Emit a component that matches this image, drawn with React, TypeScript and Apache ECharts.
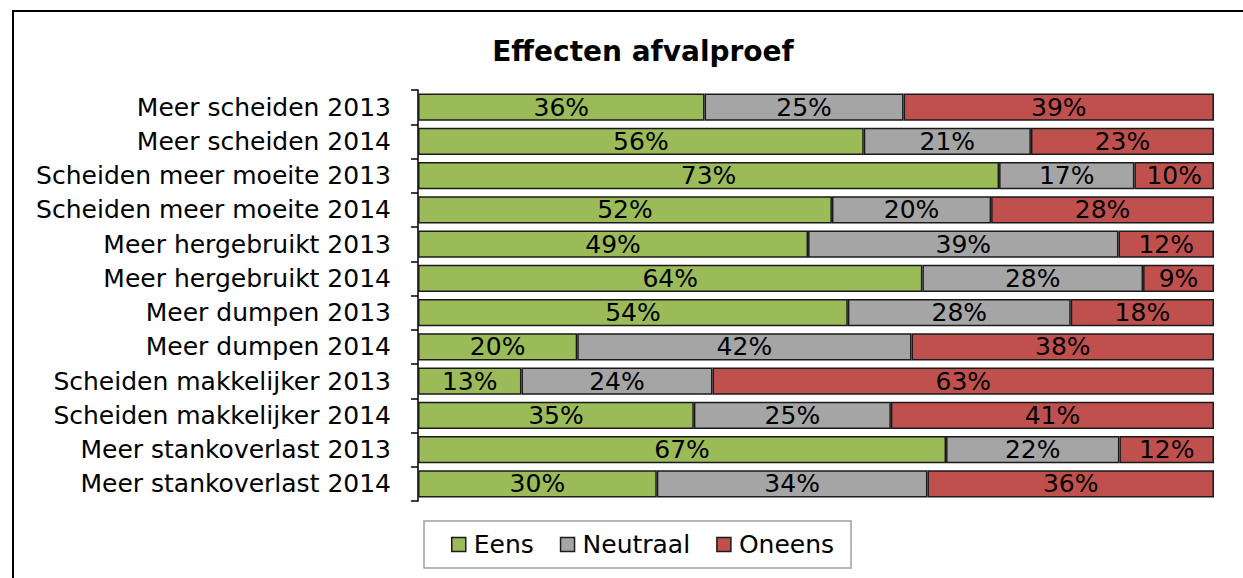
import React, { useEffect, useRef } from "react";
import * as echarts from "echarts";

const categories = [
  "Meer scheiden 2013",
  "Meer scheiden 2014",
  "Scheiden meer moeite 2013",
  "Scheiden meer moeite 2014",
  "Meer hergebruikt 2013",
  "Meer hergebruikt 2014",
  "Meer dumpen 2013",
  "Meer dumpen 2014",
  "Scheiden makkelijker 2013",
  "Scheiden makkelijker 2014",
  "Meer stankoverlast 2013",
  "Meer stankoverlast 2014",
];
const eens = [36, 56, 73, 52, 49, 64, 54, 20, 13, 35, 67, 30];
const neutraal = [25, 21, 17, 20, 39, 28, 28, 42, 24, 25, 22, 34];
const oneens = [39, 23, 10, 28, 12, 9, 18, 38, 63, 41, 12, 36];
const seriesNames = ["Eens", "Neutraal", "Oneens"];
const colors = ["#9BBB59", "#A5A5A5", "#C0504D"];

const FONT = "DejaVu Sans";

export default function App() {
  const ref = useRef<HTMLDivElement>(null);
  useEffect(() => {
    if (!ref.current) return;
    const chart = echarts.init(ref.current, null, { renderer: "svg" });
    const raw = [eens, neutraal, oneens];
    const totals = categories.map((_, i) => eens[i] + neutraal[i] + oneens[i]);
    const series = raw.map((arr, s) => ({
      name: seriesNames[s],
      type: "bar",
      stack: "total",
      barCategoryGap: "21%",
      itemStyle: { color: colors[s], borderColor: "#1a1a1a", borderWidth: 1.5 },
      label: {
        show: true,
        position: "inside",
        color: "#000",
        fontFamily: FONT,
        fontSize: 25,
        formatter: (p: any) => arr[p.dataIndex] + "%",
      },
      data: arr.map((v, i) => (v / totals[i]) * 100),
    }));
    chart.setOption({
      animation: false,
      backgroundColor: "#fff",
      title: {
        text: "Effecten afvalproef",
        left: 638,
        textAlign: "center",
        top: 32,
        textStyle: { fontFamily: FONT, fontSize: 28, fontWeight: "bold", color: "#000" },
      },
      legend: {
        bottom: 10,
        left: 424,
        itemWidth: 14,
        itemHeight: 14,
        itemGap: 26,
        padding: [11, 17, 11, 27],
        borderColor: "#a0a0a0",
        borderWidth: 1.5,
        backgroundColor: "#fff",
        textStyle: { fontFamily: FONT, fontSize: 25, color: "#000", padding: [0, 0, 0, 3] },
        data: seriesNames.map((n, i) => ({
          name: n,
          icon: "rect",
          itemStyle: { color: colors[i], borderColor: "#1a1a1a", borderWidth: 1.5 },
        })),
      },
      grid: { left: 418, right: 29, top: 90, bottom: 77, containLabel: false },
      xAxis: {
        type: "value",
        min: 0,
        max: 100,
        show: false,
      },
      yAxis: {
        type: "category",
        inverse: true,
        data: categories,
        axisLine: { show: true, lineStyle: { color: "#000", width: 1.5 } },
        axisTick: { show: true, length: 7, lineStyle: { color: "#000", width: 1.5 } },
        axisLabel: { fontFamily: FONT, fontSize: 25, color: "#000", margin: 27 },
        splitLine: { show: false },
      },
      graphic: [
        {
          type: "rect",
          shape: { x: 13, y: 11, width: 1260, height: 620 },
          style: { fill: "none", stroke: "#000", lineWidth: 2 },
          silent: true,
        },
      ],
      series,
    });
    return () => chart.dispose();
  }, []);
  return (
    <div
      ref={ref}
      style={{ position: "absolute", left: 0, top: 0, width: 1243, height: 578 }}
    />
  );
}
